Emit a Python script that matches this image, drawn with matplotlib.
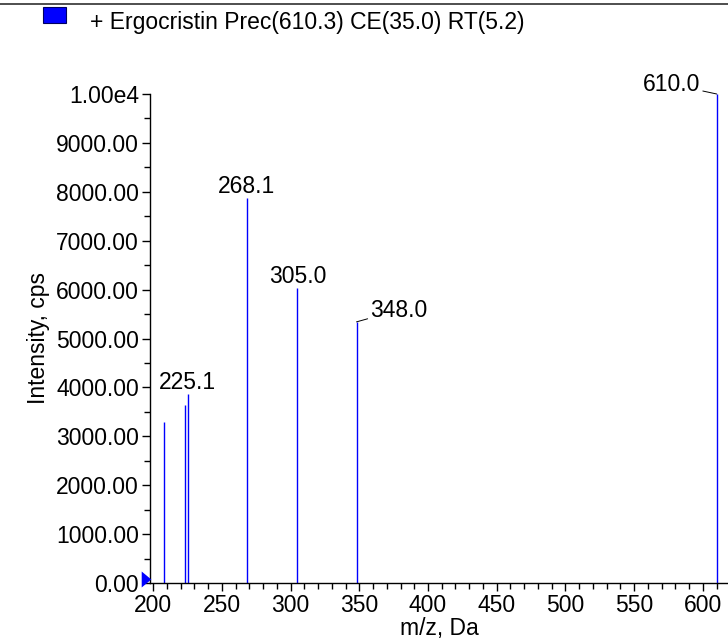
import matplotlib
matplotlib.use("Agg")
import matplotlib.pyplot as plt
from matplotlib.ticker import MultipleLocator, FuncFormatter
from matplotlib.patches import Rectangle
from matplotlib.lines import Line2D
from matplotlib.transforms import offset_copy

plt.rcParams['font.family'] = ['Liberation Sans', 'DejaVu Sans']

mz = [208.0, 223.2, 225.1, 268.1, 305.0, 348.0, 610.0]
intensity = [3290, 3640, 3870, 7870, 6030, 5340, 10000]
labels = {225.1: "225.1", 268.1: "268.1", 305.0: "305.0", 348.0: "348.0", 610.0: "610.0"}
title = "+ Ergocristin Prec(610.3) CE(35.0) RT(5.2)"

FS = 16.5
W, H = 728, 641
fig = plt.figure(figsize=(W / 100, H / 100), dpi=100)
ax = fig.add_axes([150 / W, 1 - 583 / H, 1 - 150 / W, (583 - 94) / H])

ax.vlines(mz, 0, intensity, colors="#0000ff", linewidth=1.0)
ax.set_xlim(197.8, 618.2)
ax.set_ylim(0, 10000)

ax.spines['top'].set_visible(False)
ax.spines['right'].set_visible(False)
ax.spines['left'].set_linewidth(1.0)
ax.spines['bottom'].set_linewidth(1.0)

ax.xaxis.set_major_locator(MultipleLocator(50))
ax.xaxis.set_minor_locator(MultipleLocator(10))
ax.yaxis.set_major_locator(MultipleLocator(1000))
ax.yaxis.set_minor_locator(MultipleLocator(500))

def yfmt(v, pos):
    if abs(v - 10000) < 1e-6:
        return "1.00e4"
    return "%.2f" % v
ax.yaxis.set_major_formatter(FuncFormatter(yfmt))

ax.tick_params(axis='both', which='major', direction='out', length=6, width=1, labelsize=FS, pad=2)
ax.tick_params(axis='both', which='minor', direction='out', length=4, width=1)

ax.set_xlabel("m/z, Da", fontsize=FS, labelpad=0)
ax.set_ylabel("Intensity, cps", fontsize=FS, labelpad=4)

# peak labels
for x, y in zip(mz, intensity):
    if x not in labels:
        continue
    t = labels[x]
    if x == 610.0:
        ax.annotate(t, xy=(x, y), xytext=(-12, 7), textcoords='offset points',
                    ha='right', va='center', fontsize=FS,
                    arrowprops=dict(arrowstyle='-', color='black', lw=0.7, shrinkA=0, shrinkB=0),
                    annotation_clip=False)
    elif x == 348.0:
        ax.annotate(t, xy=(x, y), xytext=(10, 8.5), textcoords='offset points',
                    ha='left', va='center', fontsize=FS,
                    arrowprops=dict(arrowstyle='-', color='black', lw=0.7, shrinkA=0, shrinkB=0))
    else:
        ax.annotate(t, xy=(x, y), xytext=(0, 3.5), textcoords='offset points',
                    ha='center', va='baseline', fontsize=FS)

# blue triangle marker at origin
tri = [(-0.6, -1), (0.6, 0), (-0.6, 1), (-0.6, -1)]
ax.plot([-4 / 578], [0], marker=tri, color='#0000ff', markersize=11.5,
        markeredgewidth=0, clip_on=False, zorder=5,
        transform=offset_copy(ax.get_yaxis_transform(), fig=fig, x=0, y=4.3, units='dots'))

# legend-like title
fig.patches.append(Rectangle((43 / W, 1 - 23 / H), 23 / W, 16 / H, transform=fig.transFigure,
                             facecolor='#0000ff', edgecolor='#000060', linewidth=0.8))
fig.text(90 / W, 1 - 28.5 / H, title, fontsize=FS, va='baseline', ha='left')
fig.lines.append(Line2D([0, 1], [1 - 4 / H, 1 - 4 / H], transform=fig.transFigure,
                        color='#303030', linewidth=1.2))

fig.savefig("out.png", dpi=100)
